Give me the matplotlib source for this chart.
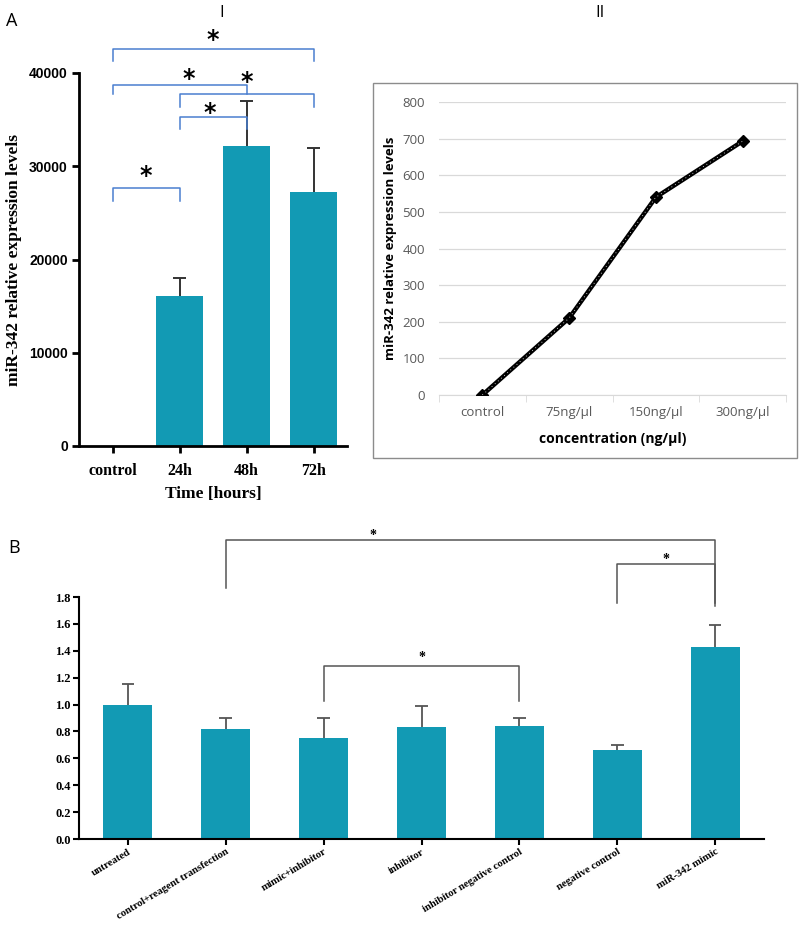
import matplotlib
matplotlib.use("Agg")
import matplotlib.pyplot as plt
from matplotlib.patches import Rectangle

W, H = 799, 925

# ---------------- data ----------------
time_cats = ["control", "24h", "48h", "72h"]
time_vals = [0, 16100, 32200, 27200]
time_err = [0, 1900, 4800, 4800]

conc_cats = ["control", "75ng/\u00b5l", "150ng/\u00b5l", "300ng/\u00b5l"]
conc_vals = [0, 210, 540, 693]

b_cats = ["untreated", "control+reagent transfection", "mimic+inhibitor", "inhibitor",
          "inhibitor negative control", "negative control", "miR-342 mimic"]
b_vals = [1.00, 0.82, 0.75, 0.83, 0.84, 0.66, 1.43]
b_err = [0.15, 0.08, 0.15, 0.16, 0.06, 0.04, 0.16]

# brackets: (i, j, top, left_leg_bottom, right_leg_bottom, star_x, star_y)
a_brackets = [
    (0, 1, 27700, 26300, 26300, 0.5, 28960),
    (1, 2, 35300, 34000, 34000, 1.45, 35700),
    (1, 3, 37750, 36350, 36350, 2.0, 39040),
    (0, 2, 38700, 37700, 37700, 1.14, 39360),
    (0, 3, 42550, 41300, 41300, 1.5, 43540),
]
b_brackets = [
    (1, 6, 2.225, 1.868, 1.734, 2.5, 2.26),
    (5, 6, 2.046, 1.756, 1.756, 5.5, 2.08),
    (2, 4, 1.287, 1.027, 1.027, 3.0, 1.35),
]

BAR = "#129ab4"
SERIF = "Liberation Serif"


def ax_rect(l, r, b, t):
    return [l / W, 1 - b / H, (r - l) / W, (b - t) / H]


def up_err(ax, xs, ys, es, color, lw, capw):
    xs2 = [x for x, e in zip(xs, es) if e > 0]
    lo = [y for y, e in zip(ys, es) if e > 0]
    hi = [y + e for y, e in zip(ys, es) if e > 0]
    ax.vlines(xs2, lo, hi, color=color, lw=lw, zorder=3)
    ax.hlines(hi, [x - capw for x in xs2], [x + capw for x in xs2], color=color, lw=lw, zorder=3)


fig = plt.figure(figsize=(W / 100, H / 100), dpi=100)

# ---------------- Panel A-I ----------------
ax1 = fig.add_axes(ax_rect(79, 347, 446, 73))
x1 = list(range(len(time_cats)))
ax1.bar(x1, time_vals, width=0.7, color=BAR, zorder=2)
up_err(ax1, x1, time_vals, time_err, "#333333", 1.4, 0.09)
ax1.set_xlim(-0.5, 3.5)
ax1.set_ylim(0, 40000)
ax1.set_yticks([0, 10000, 20000, 30000, 40000])
ax1.set_xticks(x1)
ax1.set_xticklabels(time_cats, fontfamily=SERIF, fontweight="bold", fontsize=11.5)
for lab in ax1.get_yticklabels():
    lab.set_fontweight("bold")
    lab.set_fontsize(10)
    lab.set_fontfamily("Liberation Sans")
for s in ["top", "right"]:
    ax1.spines[s].set_visible(False)
for s in ["left", "bottom"]:
    ax1.spines[s].set_linewidth(2)
ax1.tick_params(axis="both", width=2, length=5, pad=3)
ax1.tick_params(axis="x", pad=7)
ax1.set_ylabel("miR-342 relative expression levels", fontfamily=SERIF,
               fontweight="bold", fontsize=12.5, labelpad=5)
ax1.set_xlabel("Time [hours]", fontfamily=SERIF, fontweight="bold", fontsize=12.5, labelpad=5)
BL = "#4a7fd0"
for i, j, top, lb, rb, sx, sy in a_brackets:
    ax1.plot([i, i, j, j], [lb, top, top, rb], color=BL, lw=1.1, clip_on=False, zorder=4)
    ax1.text(sx, sy, "*", ha="center", va="center", fontsize=17, fontweight="bold",
             clip_on=False)

# ---------------- Panel A-II ----------------
fig.patches.append(Rectangle((373 / W, 1 - 458 / H), (797 - 373) / W, (458 - 83) / H,
                             transform=fig.transFigure, fill=False, edgecolor="#8c8c8c",
                             linewidth=1.0))
ax2 = fig.add_axes(ax_rect(439, 786, 395, 102))
x2 = list(range(len(conc_cats)))
ax2.plot(x2, conc_vals, color="black", lw=3.2, marker="D", markersize=6.5, zorder=3)
ax2.plot(x2, conc_vals, color="white", lw=0.6, ls=(0, (1, 4)), zorder=4)
ax2.set_xlim(-0.5, 3.5)
ax2.set_ylim(0, 800)
ax2.set_yticks(range(0, 801, 100))
ax2.set_xticks(x2)
ax2.set_xticklabels(conc_cats)
ax2.set_xticks([-0.5, 0.5, 1.5, 2.5, 3.5], minor=True)
ax2.grid(axis="y", color="#d9d9d9", lw=0.9, zorder=0)
ax2.set_axisbelow(True)
for s in ["top", "right", "left"]:
    ax2.spines[s].set_visible(False)
ax2.spines["bottom"].set_color("#d9d9d9")
ax2.tick_params(axis="y", length=0, pad=10, labelcolor="#595959", labelsize=9.5)
ax2.tick_params(axis="x", which="major", length=0, pad=8, labelcolor="#595959", labelsize=9.5)
ax2.tick_params(axis="x", which="minor", length=5, color="#d9d9d9")
for lab in ax2.get_xticklabels() + ax2.get_yticklabels():
    lab.set_fontfamily("Open Sans")
ax2.set_ylabel("miR-342 relative expression levels", fontfamily="Open Sans",
               fontweight="bold", fontsize=9.5, labelpad=4)
ax2.set_xlabel("concentration (ng/\u00b5l)", fontfamily="Open Sans", fontweight="bold",
               fontsize=10, labelpad=9)

# ---------------- Panel B ----------------
ax3 = fig.add_axes(ax_rect(79, 764, 839, 597))
x3 = list(range(len(b_cats)))
ax3.bar(x3, b_vals, width=0.5, color=BAR, zorder=2)
up_err(ax3, x3, b_vals, b_err, "#555555", 1.3, 0.065)
ax3.set_xlim(-0.5, 6.5)
ax3.set_ylim(0, 1.8)
ax3.set_yticks([i * 0.2 for i in range(10)])
ax3.set_yticklabels([f"{i * 0.2:.1f}" for i in range(10)], fontfamily=SERIF,
                    fontweight="bold", fontsize=9)
ax3.set_xticks(x3)
ax3.set_xticklabels(b_cats, fontfamily=SERIF, fontweight="bold", fontsize=7.7,
                    rotation=31, ha="right", rotation_mode="anchor")
for s in ["top", "right"]:
    ax3.spines[s].set_visible(False)
for s in ["left", "bottom"]:
    ax3.spines[s].set_linewidth(1.5)
ax3.tick_params(axis="both", width=1.5, length=4, pad=2)
ax3.tick_params(axis="x", pad=2)
GR = "#555555"
for i, j, top, lb, rb, sx, sy in b_brackets:
    ax3.plot([i, i, j, j], [lb, top, top, rb], color=GR, lw=1.1, clip_on=False, zorder=4)
    ax3.text(sx, sy, "*", ha="center", va="center", fontsize=10, fontfamily=SERIF,
             fontweight="bold", clip_on=False)

# ---------------- panel labels ----------------
fig.text(6 / W, 1 - 21 / H, "A", fontsize=13, va="center", ha="left", fontfamily="Open Sans")
fig.text(222 / W, 1 - 13 / H, "I", fontsize=12, va="center", ha="center", fontfamily="Open Sans")
fig.text(600 / W, 1 - 13 / H, "II", fontsize=12, va="center", ha="center", fontfamily="Open Sans")
fig.text(8 / W, 1 - 548 / H, "B", fontsize=13, va="center", ha="left", fontfamily="Open Sans")

fig.savefig("out.png", dpi=100)
